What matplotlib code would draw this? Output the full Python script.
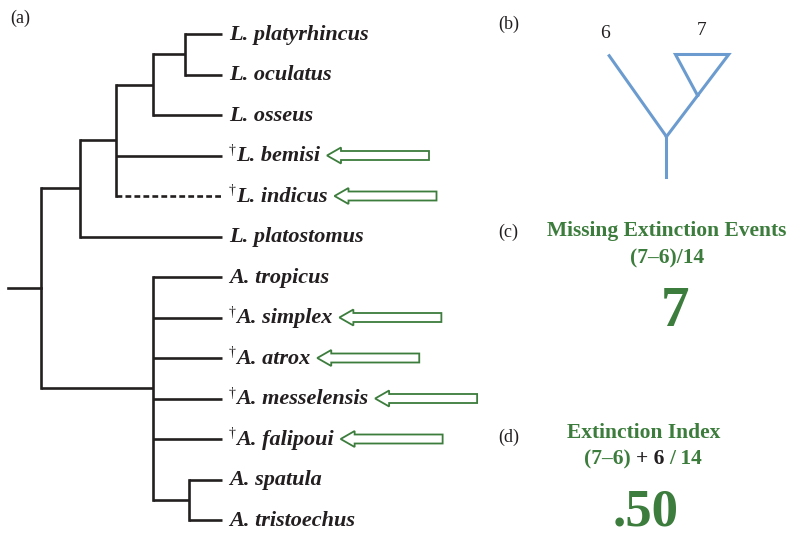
import matplotlib
matplotlib.use("Agg")
import matplotlib.pyplot as plt
from matplotlib.patches import FancyArrow

# species at the tips, top to bottom
species = ["L. platyrhincus", "L. oculatus", "L. osseus", "L. bemisi", "L. indicus",
           "L. platostomus", "A. tropicus", "A. simplex", "A. atrox", "A. messelensis",
           "A. falipoui", "A. spatula", "A. tristoechus"]
extinct = [False, False, False, True, True, False, False, True, True, True, True, False, False]
dashed = [False, False, False, False, True, False, False, False, False, False, False, False, False]

# (node depth, children) ; ints are tip indices
tip_depth = 6.4
tree = (1.0, [
    (2.15, [(3.22, [(4.33, [(5.3, [0, 1]), 2]), 3, 4]), 5]),
    (4.33, [6, 7, 8, 9, 10, (5.4, [11, 12])]),
])

# panel (b) numbers and panel (c)/(d) formulas
n_left, n_right, n_total = 6, 7, 14
missing = 7
index_value = ".50"

INK = "#231f20"
GREEN = "#3c7c3c"
BLUE = "#6c9ccf"
W, H = 791, 539

fig = plt.figure(figsize=(W / 100, H / 100), dpi=100)

# tree axes: x = depth (0 at stem), y = tip index
ppx = 214 / tip_depth   # pixels per depth unit
ppy = 40.5              # pixels per tip
ax = fig.add_axes([0, 0, 1, 1])
ax.set_xlim(-8 / ppx, (W - 8) / ppx)
ax.set_ylim((H - 34) / ppy, -34 / ppy)
ax.axis("off")


def draw(node):
    """Draw a node and return its y position."""
    if isinstance(node, int):
        return node
    depth, kids = node
    ys = [draw(k) for k in kids]
    ax.plot([depth, depth], [ys[0], ys[-1]], color=INK, lw=1.9, solid_capstyle="projecting")
    for k, y in zip(kids, ys):
        end = tip_depth if isinstance(k, int) else k[0]
        ls = (0, (2.2, 1.2)) if isinstance(k, int) and dashed[k] else "-"
        ax.plot([depth, end], [y, y], color=INK, lw=1.9, ls=ls, solid_capstyle="butt")
    return (ys[0] + ys[-1]) / 2


root_y = draw(tree)
ax.plot([0, tree[0]], [root_y, root_y], color=INK, lw=1.9)

label_font = dict(family="Liberation Serif", weight="bold", style="italic", size=16, color=INK)
labels = []
for i, name in enumerate(species):
    x0 = tip_depth + 7 / ppx
    if extinct[i]:
        ax.text(x0, i - 0.13, "\u2020", family="Liberation Serif", size=10, color=INK,
                ha="left", va="center")
        x0 += 7 / ppx
    t = ax.text(x0, i + 0.02, name, ha="left", va="center", **label_font)
    labels.append(t)

fig.canvas.draw()
renderer = fig.canvas.get_renderer()
inv = ax.transData.inverted()

# hollow arrows pointing at the extinct taxa
for i, t in enumerate(labels):
    if not extinct[i]:
        continue
    bb = t.get_window_extent(renderer)
    x_end = inv.transform((bb.x1, 0))[0] + 7 / ppx
    length = 102 / ppx
    ax.add_patch(FancyArrow(x_end + length, i, -length, 0, width=9 / ppy,
                            head_width=16 / ppy, head_length=14 / ppx,
                            length_includes_head=True, facecolor="white",
                            edgecolor=GREEN, lw=1.3))


def fx(x, y):
    return x / W, 1 - y / H


serif = "Liberation Serif"
for lab, (x, y) in zip(["(a)", "(b)", "(c)", "(d)"], [(10, 18), (498, 24), (498, 232), (498, 437)]):
    fig.text(*fx(x, y), lab, family=serif, size=13, color=INK, ha="left", va="center")

# panel (b): collapsed tree
bx = fig.add_axes([560 / W, 1 - 190 / H, 190 / W, 170 / H])
bx.set_xlim(-1.3, 1.02)
bx.set_ylim(-0.65, 1.42)
bx.axis("off")
blw = 2.2
bx.plot([0, 0], [-0.49, 0], color=BLUE, lw=blw)
bx.plot([0, -0.71], [0, 1.0], color=BLUE, lw=blw, solid_capstyle="butt")
bx.plot([0, 0.76, 0.11, 0.38], [0, 1.0, 1.0, 0.5], color=BLUE, lw=blw, solid_joinstyle="miter")
bx.text(-0.75, 1.25, str(n_left), family=serif, size=14, color=INK, ha="center", va="center")
bx.text(0.43, 1.29, str(n_right), family=serif, size=14, color=INK, ha="center", va="center")

# panel (c)
hsize = 15.5
head = dict(family=serif, weight="bold", size=hsize, color=GREEN, ha="center", va="center")
fig.text(*fx(667, 231), "Missing Extinction Events", **head)
fig.text(*fx(667, 258), f"({n_right}\u2013{n_left})/{n_total}", **head)
fig.text(*fx(675, 312), str(missing), family=serif, weight="bold", size=41, color=GREEN,
         ha="center", va="center")

# panel (d)
fig.text(*fx(644, 433), "Extinction Index", **head)
parts = [(f"({n_right}\u2013{n_left}) ", GREEN), (f"+ {n_left} ", INK), (f"/ {n_total}", GREEN)]
full = fig.text(0, 0, "".join(p for p, _ in parts), family=serif, weight="bold", size=hsize)
wfull = full.get_window_extent(renderer).width
full.remove()
xcur = 643 - wfull / 2
for txt, col in parts:
    tt = fig.text(*fx(xcur, 459), txt, family=serif, weight="bold", size=hsize, color=col,
                  ha="left", va="center")
    xcur += tt.get_window_extent(renderer).width
fig.text(*fx(646, 513), index_value, family=serif, weight="bold", size=38, color=GREEN,
         ha="center", va="center")

fig.savefig("out.png", dpi=100)
